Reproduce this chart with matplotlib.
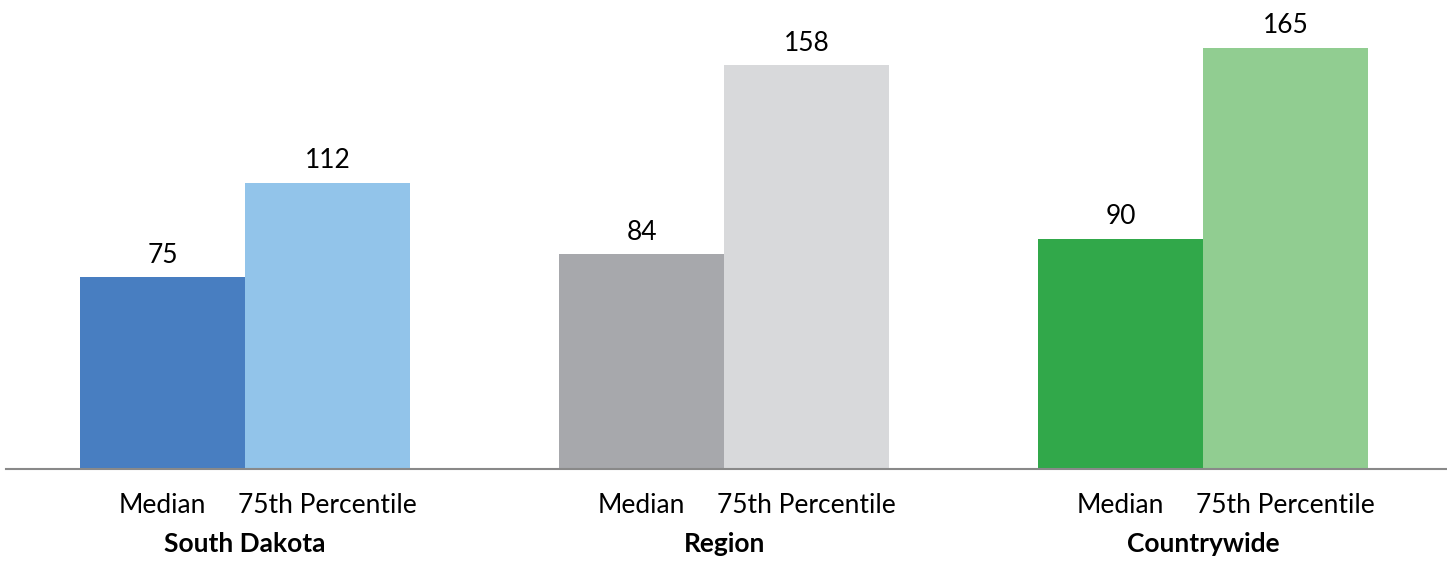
import matplotlib.pyplot as plt
import numpy as np

# Data
groups = ["South Dakota", "Region", "Countrywide"]
measures = ["Median", "75th Percentile"]
median_values = [75, 84, 90]
pct75_values = [112, 158, 165]

median_colors = ["#487EC1", "#A7A8AC", "#31A84A"]
pct75_colors = ["#92C4EA", "#D8D9DB", "#91CD91"]

plt.rcParams["font.family"] = ["Lato", "DejaVu Sans"]

fig = plt.figure(figsize=(14.47, 5.61), dpi=100)
ax = fig.add_axes([6 / 1447, 92 / 561, 1 - 6 / 1447, 1 - 92 / 561])

x = np.arange(len(groups))
width = 0.3445

bars_med = ax.bar(x - width / 2, median_values, width, color=median_colors)
bars_p75 = ax.bar(x + width / 2, pct75_values, width, color=pct75_colors)

# Value labels above the bars
ax.bar_label(bars_med, padding=7, fontsize=19, color="black")
ax.bar_label(bars_p75, padding=7, fontsize=19, color="black")

ax.set_xlim(-0.499, 2.509)
ax.set_ylim(0, 183.6)

# Measure labels under each bar
tick_pos = np.concatenate([x - width / 2, x + width / 2])
tick_lab = [measures[0]] * len(groups) + [measures[1]] * len(groups)
ax.set_xticks(tick_pos)
ax.set_xticklabels(tick_lab, fontsize=19)
ax.tick_params(axis="x", length=0, pad=17)
ax.set_yticks([])

# Group labels in bold
for i, g in enumerate(groups):
    ax.annotate(g, xy=(x[i], 0), xycoords=("data", "axes fraction"),
                xytext=(0, -60), textcoords="offset points",
                ha="center", va="baseline", fontsize=19, fontweight="bold")

for side in ["top", "right", "left"]:
    ax.spines[side].set_visible(False)
ax.spines["bottom"].set_color("#898989")
ax.spines["bottom"].set_linewidth(1.5)

fig.savefig("out.png", dpi=100)
